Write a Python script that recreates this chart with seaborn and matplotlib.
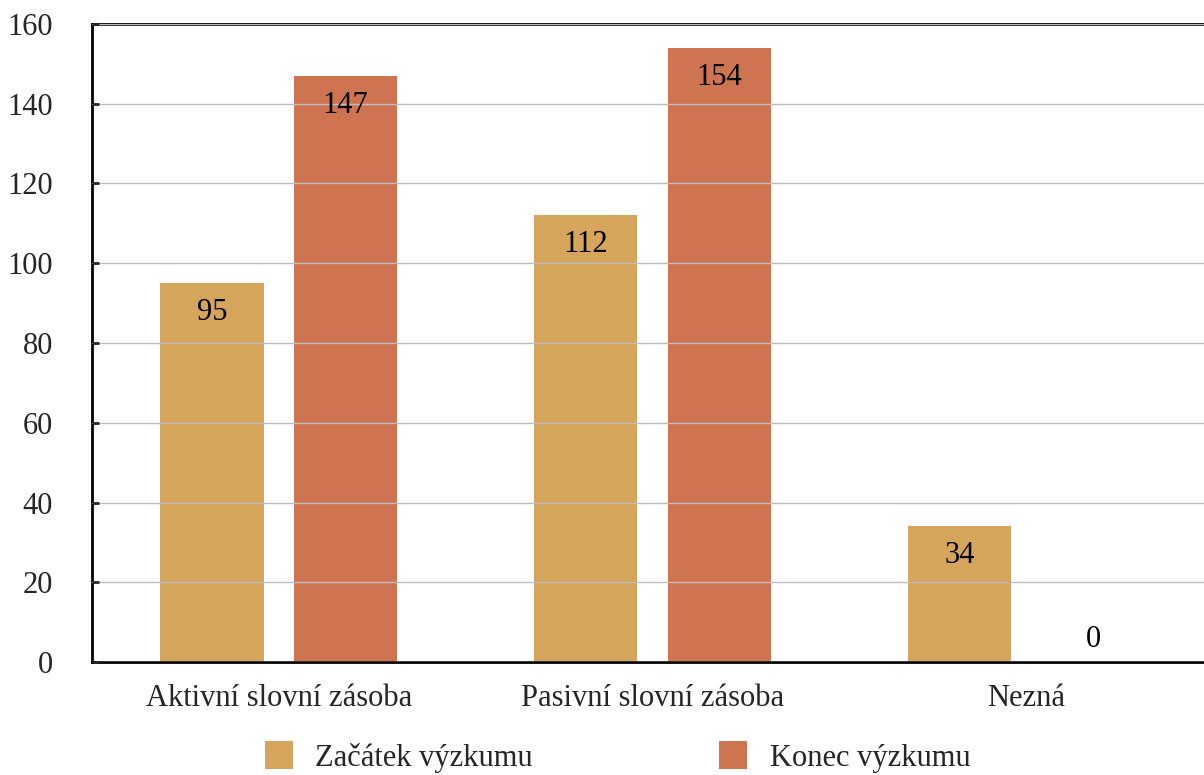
import pandas as pd
import seaborn as sns
import matplotlib.pyplot as plt

# Data
categories = ["Aktivní slovní zásoba", "Pasivní slovní zásoba", "Nezná"]
series = ["Začátek výzkumu", "Konec výzkumu"]
start_vals = [95, 112, 34]
end_vals = [147, 154, 0]
colors = ["#D4A55A", "#CF7450"]

df = pd.DataFrame({
    "Kategorie": categories * 2,
    "Období": [series[0]] * 3 + [series[1]] * 3,
    "Počet": start_vals + end_vals,
})

sns.set_style("white")
plt.rcParams["font.family"] = ["Liberation Serif", "DejaVu Serif"]

fig = plt.figure(figsize=(12.04, 7.75), dpi=100)
ax = fig.add_axes([92 / 1204, 1 - 662 / 775, 1121 / 1204, 638 / 775])

sns.barplot(
    ax=ax, data=df, x="Kategorie", y="Počet", hue="Období",
    palette=colors, width=0.716, gap=0.226, saturation=1, linewidth=0,
)

ax.set_xlim(-0.5, 2.5)
ax.set_ylim(0, 160)
ax.set_yticks(range(0, 161, 20))
ax.set_xlabel("")
ax.set_ylabel("")

# grid drawn over bars, like the original
ax.set_axisbelow(False)
ax.yaxis.grid(True, color="#BDBDBD", linewidth=1)
ax.xaxis.grid(False)

for side in ["left", "bottom", "top"]:
    ax.spines[side].set_visible(True)
    ax.spines[side].set_color("black")
    ax.spines[side].set_linewidth(2)
ax.spines["right"].set_visible(False)

ax.tick_params(axis="y", direction="in", length=5, width=2, left=True,
               labelsize=22, pad=28)
ax.tick_params(axis="x", length=0, labelsize=22, pad=16)

# value labels inside the bar top (above the axis for zeros)
for cont in ax.containers:
    for bar in cont:
        h = bar.get_height()
        xc = bar.get_x() + bar.get_width() / 2
        off = -21 if h > 0 else 16
        ax.annotate(f"{h:.0f}", (xc, h), xytext=(0, off), textcoords="offset points",
                    ha="center", va="center", fontsize=22, color="black", zorder=4)

handles, labels = ax.get_legend_handles_labels()
ax.legend_.remove()
fig.legend(handles, labels, loc="center left", bbox_to_anchor=(265 / 1204, 1 - 757 / 775),
           ncol=2, frameon=False, fontsize=22, handlelength=0.9, handleheight=1.0,
           handletextpad=0.75, columnspacing=6.1, borderpad=0, borderaxespad=0)

fig.savefig("out.png", dpi=100)
